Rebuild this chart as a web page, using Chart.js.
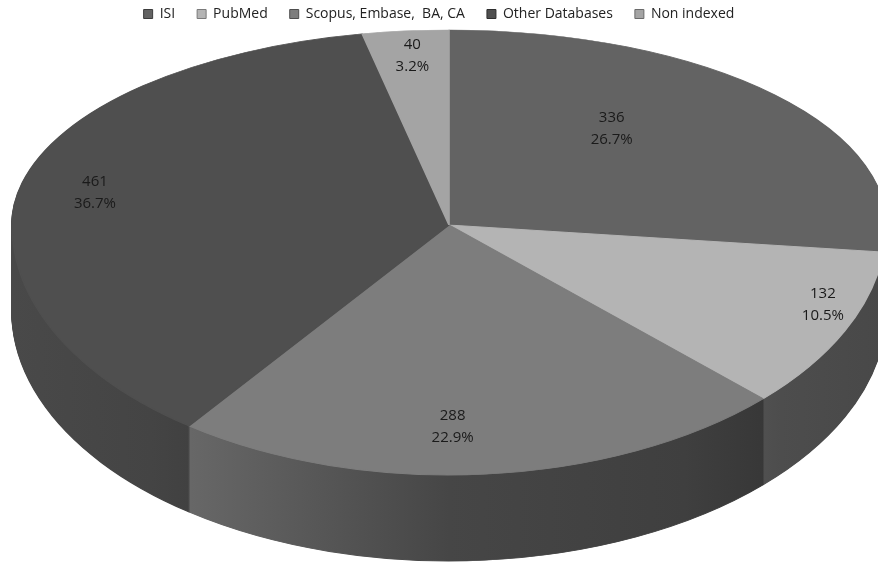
<!DOCTYPE html>
<html>
<head>
<meta charset="utf-8">
<script src="https://cdn.jsdelivr.net/npm/chart.js@4.4.1/dist/chart.umd.min.js"></script>
<style>
  html, body { margin: 0; padding: 0; background: #fff; }
  #wrap { width: 878px; height: 562px; }
</style>
</head>
<body>
<div id="wrap"><canvas id="grafico"></canvas></div>
<script>
const categorias = ['ISI', 'PubMed', 'Scopus, Embase,  BA, CA', 'Other Databases', 'Non indexed'];
const valores = [336, 132, 288, 461, 40];

const colores = ['#636363', '#b4b4b4', '#7d7d7d', '#4f4f4f', '#a4a4a4'];
const bordesLeyenda = ['#3c3c3c', '#7a7a7a', '#4e4e4e', '#2e2e2e', '#6a6a6a'];

// flattened pie on the page: centre, width, back/front half heights, thickness
const CX = 449, CY = 225, RX = 437, RY_FONDO = 195, RY_FRENTE = 250, PROF = 86;
// where each label sits, as a share of the radius (x, y)
const radioEtiqueta = [[0.5, 0.74], [0.945, 0.755], [0.1, 0.81], [0.83, 0.76], [0.84, 0.87]];
// light on the side wall, from left to right
const sombra = [[0, 0.93], [0.16, 0.86], [0.5, 0.56], [0.77, 0.5], [0.88, 0.43], [1, 0.4]];

function oscurecer(hex, f) {
    const n = parseInt(hex.slice(1), 16);
    const r = Math.round(((n >> 16) & 255) * f);
    const g = Math.round(((n >> 8) & 255) * f);
    const b = Math.round((n & 255) * f);
    return `rgb(${r},${g},${b})`;
}

const pastel3d = {
    id: 'pastel3d',
    beforeDatasetsDraw(chart) {
        const ctx = chart.ctx;
        const W = chart.width, H = chart.height;
        const arcos = chart.getDatasetMeta(0).data;
        const { x, y, outerRadius: r } = arcos[0];
        const sx = RX / r;

        const paredes = arcos.map((arco, i) => {
            const g = ctx.createLinearGradient(x - r, 0, x + r, 0);
            sombra.forEach(([t, f]) => g.addColorStop(t, oscurecer(colores[i], f)));
            const copia = Object.create(arco);
            copia.options = Object.assign({}, arco.options, { backgroundColor: g, borderColor: g });
            return copia;
        });

        // back half and front half get different heights (rough perspective)
        const dibujar = (elementos, d) => {
            const c = CY + d;
            [[RY_FONDO, 0, c], [RY_FRENTE, c, H]].forEach(([ry, y0, y1]) => {
                ctx.save();
                ctx.setTransform(1, 0, 0, 1, 0, 0);
                ctx.beginPath();
                ctx.rect(0, y0, W, y1 - y0);
                ctx.clip();
                const sy = ry / r;
                ctx.setTransform(sx, 0, 0, sy, CX - x * sx, c - y * sy);
                elementos.forEach(e => e.draw(ctx));
                ctx.restore();
            });
        };

        for (let d = PROF; d >= 1; d--) dibujar(paredes, d);
        dibujar(arcos, 0);

        // value labels
        const total = valores.reduce((a, b) => a + b, 0);
        ctx.save();
        ctx.font = '15px "Open Sans"';
        ctx.fillStyle = '#1a1a1a';
        ctx.textAlign = 'center';
        ctx.textBaseline = 'middle';
        arcos.forEach((arco, i) => {
            const medio = (arco.startAngle + arco.endAngle) / 2;
            const [fx, fy] = radioEtiqueta[i];
            const s = Math.sin(medio);
            const lx = CX + RX * fx * Math.cos(medio);
            const ly = CY + (s < 0 ? RY_FONDO : RY_FRENTE) * fy * s;
            ctx.fillText(String(valores[i]), lx, ly - 11);
            ctx.fillText((valores[i] / total * 100).toFixed(1) + '%', lx, ly + 11);
        });
        ctx.restore();
        return false;
    }
};

new Chart(document.getElementById('grafico'), {
    type: 'pie',
    data: {
        labels: categorias,
        datasets: [{
            data: valores,
            backgroundColor: colores,
            borderColor: colores,
            borderWidth: 1,
            hoverOffset: 0
        }]
    },
    options: {
        responsive: true,
        maintainAspectRatio: false,
        animation: false,
        events: [],
        layout: { padding: { top: -15 } },
        plugins: {
            tooltip: { enabled: false },
            legend: {
                position: 'top',
                labels: {
                    boxWidth: 9,
                    boxHeight: 9,
                    padding: 22,
                    color: '#222',
                    font: { family: '"Open Sans"', size: 14 },
                    generateLabels(chart) {
                        const base = Chart.overrides.pie.plugins.legend.labels.generateLabels(chart);
                        return base.map((l, i) => Object.assign(l, { strokeStyle: bordesLeyenda[i], lineWidth: 1 }));
                    }
                }
            }
        }
    },
    plugins: [pastel3d]
});
</script>
</body>
</html>
